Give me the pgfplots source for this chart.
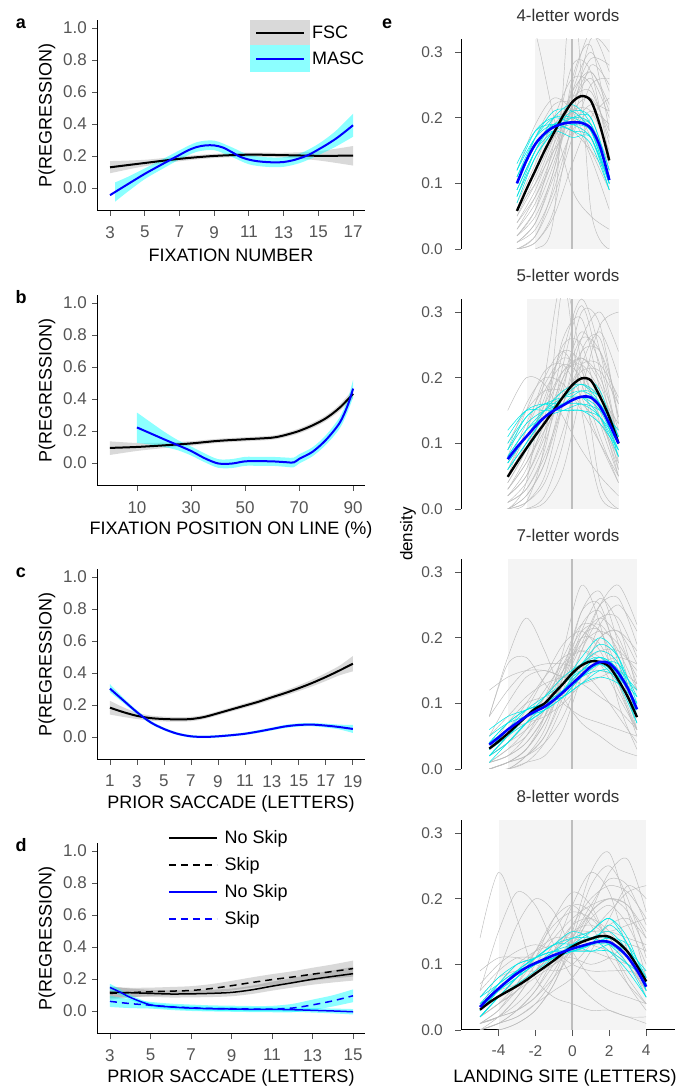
\documentclass[border=0pt]{standalone}
\usepackage{fontspec}
\setmainfont{Liberation Sans}
\usepackage{pgfplots}
\usepackage{pgfplotstable}
\pgfplotsset{compat=1.18}
\usepgfplotslibrary{fillbetween}

\definecolor{tickgray}{RGB}{85,85,85}
\definecolor{titlegray}{RGB}{51,51,51}
\definecolor{curvegray}{RGB}{188,188,188}
\definecolor{curvecyan}{RGB}{0,232,232}
\definecolor{cyanfill}{RGB}{0,255,255}
\definecolor{pureblue}{RGB}{0,0,255}
\definecolor{shadegray}{RGB}{244,244,244}
\definecolor{zeroline}{RGB}{190,190,190}
\newcommand{\fs}[1]{\fontsize{#1}{#1}\selectfont}

% ---------- panel a ----------
\pgfplotstableread{
x y lo hi
3 0.129 0.092 0.168
5 0.156 0.136 0.176
7 0.182 0.167 0.197
9 0.200 0.187 0.213
11 0.208 0.195 0.221
13 0.205 0.190 0.220
15 0.201 0.172 0.230
17 0.202 0.140 0.262
}\tAf
\pgfplotstableread{
x y
3 -0.045
4 0.022
5 0.088
6 0.148
7 0.206
7.5 0.235
8 0.256
8.5 0.266
9 0.266
9.5 0.253
10 0.225
10.5 0.195
11 0.177
11.5 0.167
12 0.162
12.5 0.160
13 0.162
13.5 0.172
14 0.188
14.5 0.210
15 0.240
15.5 0.272
16 0.307
16.5 0.348
17 0.392
}\tAm
\pgfplotstableread{
x lo hi
3.3 -0.085 0.035
4 -0.025 0.068
5 0.055 0.122
6 0.118 0.178
7 0.178 0.235
8 0.226 0.286
9 0.236 0.296
10 0.195 0.255
11 0.148 0.206
12 0.132 0.192
13 0.132 0.192
14 0.158 0.218
15 0.205 0.275
16 0.258 0.356
17 0.320 0.464
}\tAmb
% ---------- panel b ----------
\pgfplotstableread{
x y lo hi
0 0.094 0.050 0.135
10 0.100 0.075 0.125
20 0.110 0.093 0.127
30 0.122 0.108 0.136
40 0.138 0.125 0.151
50 0.148 0.135 0.161
60 0.158 0.145 0.171
65 0.175 0.161 0.189
70 0.200 0.185 0.215
75 0.235 0.219 0.251
80 0.280 0.263 0.297
85 0.345 0.325 0.365
90 0.432 0.405 0.460
}\tBf
\pgfplotstableread{
x y lo hi
10 0.222 0.125 0.315
15 0.185 0.115 0.255
20 0.148 0.100 0.196
25 0.112 0.080 0.144
30 0.075 0.047 0.103
35 0.030 0.005 0.060
40 -0.003 -0.030 0.024
45 -0.004 -0.032 0.024
50 0.010 -0.018 0.038
55 0.011 -0.018 0.038
60 0.010 -0.018 0.038
65 0.005 -0.024 0.034
68 0.003 -0.027 0.033
70 0.025 -0.004 0.054
75 0.070 0.042 0.098
80 0.145 0.115 0.175
85 0.250 0.215 0.285
88 0.360 0.320 0.400
90 0.465 0.410 0.520
}\tBm
% ---------- panel c ----------
\pgfplotstableread{
x y lo hi
1 0.183 0.140 0.226
2 0.155 0.125 0.185
3 0.132 0.112 0.152
4 0.118 0.102 0.134
5 0.112 0.097 0.127
6 0.110 0.096 0.124
7 0.112 0.098 0.126
8 0.125 0.112 0.138
9 0.148 0.135 0.161
10 0.172 0.159 0.185
11 0.196 0.182 0.210
12 0.220 0.206 0.234
13 0.248 0.233 0.263
14 0.275 0.259 0.291
15 0.305 0.287 0.323
16 0.338 0.317 0.359
17 0.375 0.350 0.400
18 0.415 0.385 0.445
19 0.458 0.410 0.506
}\tCf
\pgfplotstableread{
x y lo hi
1 0.302 0.280 0.330
2 0.228 0.212 0.244
3 0.155 0.143 0.167
4 0.092 0.082 0.102
5 0.050 0.041 0.059
6 0.020 0.012 0.028
7 0.004 -0.004 0.012
8 0.000 -0.008 0.008
9 0.004 -0.004 0.012
10 0.011 0.003 0.019
11 0.020 0.012 0.028
12 0.034 0.025 0.043
13 0.050 0.041 0.059
14 0.066 0.056 0.076
15 0.075 0.065 0.085
16 0.077 0.067 0.087
17 0.071 0.059 0.083
18 0.062 0.047 0.077
19 0.050 0.025 0.075
}\tCm
% ---------- panel d ----------
\pgfplotstableread{
x y lo hi
3 0.117 0.080 0.155
4 0.114 0.088 0.140
5 0.110 0.088 0.132
6 0.106 0.084 0.128
7 0.107 0.085 0.129
8 0.110 0.087 0.133
9 0.116 0.092 0.140
10 0.132 0.106 0.158
11 0.155 0.127 0.183
12 0.176 0.146 0.206
13 0.198 0.164 0.232
14 0.216 0.178 0.254
15 0.233 0.190 0.276
}\tDfn
\pgfplotstableread{
x y lo hi
3 0.110 0.070 0.150
4 0.115 0.085 0.145
5 0.120 0.094 0.146
6 0.124 0.098 0.150
7 0.128 0.101 0.155
8 0.140 0.112 0.168
9 0.158 0.128 0.188
10 0.178 0.146 0.210
11 0.196 0.162 0.230
12 0.212 0.176 0.248
13 0.230 0.190 0.270
14 0.247 0.203 0.291
15 0.265 0.215 0.315
}\tDfs
\pgfplotstableread{
x y lo hi
3 0.147 0.125 0.170
3.5 0.118 0.100 0.136
4 0.085 0.070 0.100
5 0.038 0.026 0.050
6 0.025 0.013 0.037
7 0.018 0.006 0.030
8 0.014 0.002 0.026
9 0.012 0.000 0.024
10 0.010 -0.002 0.022
11 0.010 -0.002 0.022
12 0.008 -0.005 0.021
13 0.004 -0.010 0.018
14 0.000 -0.015 0.015
15 -0.005 -0.022 0.012
}\tDmn
\pgfplotstableread{
x y lo hi
3 0.060 0.025 0.095
4 0.046 0.018 0.074
5 0.036 0.015 0.057
6 0.026 0.006 0.046
7 0.020 0.000 0.040
8 0.016 -0.003 0.035
9 0.014 -0.005 0.033
10 0.012 -0.007 0.031
11 0.012 -0.008 0.032
12 0.018 -0.008 0.044
13 0.038 0.005 0.071
14 0.063 0.028 0.098
15 0.095 0.055 0.135
}\tDms
% ---------- panel e: individual curves ----------
\pgfplotstableread{
x g1 g2 g3 g4 g5 g6 g7 g8 g9 g10 g11 g12 g13 g14 g15 g16 g17 g18 c1 c2 c3 c4 c5 c6 c7 c8 c9 c10 c11 c12
-3 0.02 0.05 0.08 0.01 0.10 0.03 0.00 0.06 0.12 0.02 0.00 0.04 0.00 0.40 0.01 0.07 0.00 0.09 0.10 0.12 0.08 0.11 0.09 0.13 0.07 0.11 0.10 0.09 0.12 0.08
-2 0.06 0.10 0.14 0.03 0.17 0.08 0.02 0.12 0.19 0.05 0.01 0.09 0.00 0.33 0.04 0.13 0.01 0.15 0.16 0.18 0.14 0.17 0.15 0.18 0.14 0.16 0.17 0.15 0.17 0.15
-1 0.13 0.17 0.19 0.09 0.22 0.15 0.10 0.18 0.23 0.12 0.06 0.16 0.05 0.20 0.11 0.20 0.05 0.20 0.19 0.20 0.18 0.20 0.19 0.19 0.18 0.18 0.21 0.18 0.19 0.20
0 0.22 0.24 0.21 0.19 0.22 0.23 0.26 0.23 0.21 0.25 0.20 0.21 0.40 0.09 0.18 0.26 0.13 0.20 0.20 0.19 0.21 0.20 0.19 0.18 0.20 0.17 0.21 0.19 0.18 0.22
1 0.26 0.27 0.18 0.28 0.17 0.29 0.31 0.24 0.15 0.33 0.32 0.21 0.06 0.05 0.21 0.25 0.20 0.14 0.19 0.17 0.20 0.18 0.18 0.17 0.20 0.17 0.18 0.19 0.16 0.19
2 0.20 0.22 0.12 0.25 0.10 0.28 0.18 0.17 0.09 0.27 0.30 0.15 0.00 0.03 0.19 0.16 0.23 0.06 0.11 0.10 0.12 0.10 0.11 0.09 0.12 0.10 0.10 0.11 0.09 0.11
}\tEa
\pgfplotstableread{
x h1 h2 h3 h4 h5 h6 h7 h8
-3 0.03 0.01 0.05 0.00 0.04 0.11 0.02 0.06
-2 0.07 0.04 0.11 0.02 0.08 0.16 0.06 0.10
-1 0.14 0.12 0.17 0.08 0.14 0.19 0.16 0.15
0 0.21 0.22 0.20 0.17 0.24 0.18 0.28 0.19
1 0.23 0.27 0.19 0.25 0.30 0.15 0.27 0.22
2 0.18 0.21 0.13 0.26 0.24 0.11 0.14 0.21
}\tEaX
\pgfplotstableread{
x g1 g2 g3 g4 g5 g6 g7 g8 g9 g10 g11 g12 g13 g14 g15 g16 g17 g18 g19 g20 c1 c2 c3 c4 c5 c6 c7 c8 c9 c10 c11 c12
-3.5 0.03 0.01 0.06 0.00 0.09 0.02 0.00 0.04 0.15 0.00 0.02 0.05 0.00 0.07 0.01 0.00 0.10 0.03 0.00 0.08 0.08 0.10 0.06 0.09 0.07 0.11 0.05 0.08 0.09 0.07 0.12 0.06
-2.5 0.07 0.04 0.12 0.02 0.16 0.05 0.01 0.09 0.20 0.01 0.06 0.10 0.00 0.13 0.03 0.04 0.15 0.08 0.00 0.15 0.12 0.14 0.10 0.13 0.11 0.15 0.09 0.12 0.14 0.11 0.15 0.10
-1.5 0.13 0.10 0.18 0.07 0.20 0.12 0.05 0.15 0.19 0.10 0.14 0.16 0.02 0.19 0.08 0.20 0.18 0.16 0.01 0.21 0.15 0.16 0.14 0.15 0.14 0.16 0.13 0.14 0.16 0.15 0.15 0.14
-0.5 0.20 0.19 0.22 0.18 0.19 0.24 0.16 0.21 0.14 0.34 0.26 0.21 0.10 0.23 0.16 0.35 0.18 0.25 0.06 0.22 0.17 0.16 0.17 0.16 0.16 0.15 0.17 0.15 0.17 0.18 0.15 0.16
0.5 0.23 0.26 0.20 0.30 0.15 0.32 0.26 0.23 0.09 0.22 0.29 0.22 0.24 0.21 0.22 0.15 0.16 0.25 0.18 0.17 0.18 0.16 0.19 0.17 0.17 0.15 0.20 0.16 0.17 0.19 0.15 0.18
1.5 0.19 0.24 0.14 0.28 0.10 0.24 0.30 0.20 0.05 0.04 0.18 0.18 0.26 0.14 0.22 0.02 0.13 0.15 0.28 0.10 0.16 0.14 0.17 0.15 0.16 0.14 0.18 0.15 0.14 0.16 0.13 0.17
2.5 0.11 0.14 0.07 0.13 0.05 0.10 0.24 0.12 0.02 0.00 0.06 0.11 0.14 0.06 0.17 0.00 0.08 0.05 0.30 0.04 0.10 0.09 0.11 0.09 0.11 0.10 0.10 0.12 0.08 0.08 0.09 0.11
}\tEb
\pgfplotstableread{
x h1 h2 h3 h4 h5 h6 h7 h8
-3.5 0.02 0.04 0.00 0.06 0.01 0.03 0.00 0.05
-2.5 0.05 0.09 0.02 0.11 0.03 0.07 0.01 0.12
-1.5 0.11 0.17 0.07 0.15 0.09 0.12 0.04 0.20
-0.5 0.20 0.24 0.16 0.18 0.22 0.17 0.12 0.24
0.5 0.27 0.22 0.24 0.19 0.31 0.21 0.22 0.19
1.5 0.22 0.13 0.24 0.17 0.21 0.21 0.27 0.11
2.5 0.10 0.05 0.16 0.13 0.07 0.16 0.20 0.04
}\tEbX
\pgfplotstableread{
x g1 g2 g3 g4 g5 g6 g7 g8 g9 g10 g11 g12 g13 g14 g15 g16 g17 g18 g19 g20 c1 c2 c3 c4 c5 c6 c7 c8 c9 c10 c11 c12
-4.5 0.08 0.08 0.01 0.00 0.02 0.00 0.12 0.01 0.03 0.00 0.05 0.00 0.02 0.01 0.08 0.00 0.03 0.00 0.04 0.02 0.03 0.04 0.02 0.05 0.03 0.01 0.04 0.02 0.06 0.03 0.02 0.04
-3.5 0.17 0.16 0.03 0.01 0.04 0.00 0.14 0.02 0.06 0.01 0.08 0.00 0.05 0.02 0.12 0.00 0.07 0.01 0.06 0.04 0.06 0.07 0.05 0.07 0.06 0.04 0.07 0.05 0.08 0.05 0.04 0.06
-2.5 0.23 0.17 0.06 0.03 0.07 0.02 0.15 0.04 0.10 0.03 0.11 0.01 0.09 0.05 0.15 0.01 0.10 0.02 0.07 0.06 0.08 0.09 0.08 0.08 0.09 0.07 0.09 0.07 0.09 0.08 0.07 0.08
-1.5 0.18 0.13 0.11 0.08 0.11 0.06 0.15 0.08 0.14 0.07 0.13 0.04 0.14 0.10 0.16 0.02 0.11 0.05 0.08 0.09 0.10 0.10 0.10 0.09 0.11 0.09 0.10 0.09 0.10 0.11 0.10 0.09
-0.5 0.11 0.10 0.17 0.18 0.15 0.14 0.14 0.13 0.17 0.14 0.14 0.10 0.19 0.16 0.16 0.06 0.12 0.12 0.10 0.14 0.12 0.12 0.13 0.11 0.13 0.12 0.11 0.12 0.11 0.14 0.13 0.11
0.5 0.07 0.08 0.22 0.28 0.19 0.24 0.13 0.19 0.18 0.22 0.15 0.18 0.21 0.21 0.15 0.14 0.15 0.20 0.13 0.20 0.15 0.14 0.16 0.14 0.15 0.16 0.13 0.15 0.13 0.16 0.17 0.14
1.5 0.05 0.07 0.21 0.22 0.21 0.27 0.11 0.25 0.16 0.24 0.15 0.25 0.18 0.22 0.12 0.20 0.20 0.21 0.16 0.23 0.17 0.16 0.18 0.15 0.16 0.19 0.15 0.17 0.14 0.17 0.20 0.16
2.5 0.03 0.06 0.15 0.10 0.19 0.19 0.09 0.26 0.11 0.17 0.14 0.28 0.12 0.18 0.08 0.21 0.21 0.13 0.17 0.20 0.15 0.14 0.16 0.14 0.13 0.17 0.15 0.15 0.13 0.14 0.17 0.16
3.5 0.02 0.05 0.08 0.03 0.14 0.08 0.06 0.19 0.06 0.08 0.12 0.22 0.06 0.12 0.04 0.18 0.16 0.05 0.16 0.13 0.09 0.10 0.08 0.11 0.07 0.10 0.12 0.09 0.10 0.07 0.08 0.11
}\tEc
\pgfplotstableread{
x h1 h2 h3 h4 h5 h6 h7 h8
-4.5 0.01 0.00 0.03 0.00 0.05 0.01 0.02 0.00
-3.5 0.03 0.01 0.05 0.00 0.10 0.02 0.04 0.01
-2.5 0.05 0.03 0.08 0.02 0.14 0.04 0.07 0.02
-1.5 0.09 0.07 0.12 0.05 0.15 0.08 0.11 0.04
-0.5 0.15 0.13 0.16 0.11 0.14 0.15 0.14 0.08
0.5 0.20 0.21 0.18 0.18 0.13 0.24 0.16 0.15
1.5 0.19 0.26 0.17 0.23 0.14 0.25 0.18 0.22
2.5 0.13 0.22 0.14 0.23 0.15 0.16 0.18 0.25
3.5 0.06 0.12 0.10 0.17 0.13 0.06 0.15 0.21
}\tEcX
\pgfplotstableread{
x g1 g2 g3 g4 g5 g6 g7 g8 g9 g10 g11 g12 g13 g14 g15 g16 g17 g18 g19 g20 c1 c2 c3 c4 c5 c6 c7 c8 c9 c10 c11 c12
-5 0.14 0.06 0.01 0.00 0.01 0.03 0.02 0.00 0.04 0.09 0.00 0.02 0.05 0.01 0.03 0.00 0.07 0.01 0.00 0.02 0.03 0.04 0.02 0.05 0.03 0.04 0.02 0.03 0.04 0.03 0.02 0.05
-4 0.24 0.15 0.02 0.01 0.02 0.05 0.04 0.01 0.07 0.11 0.00 0.05 0.08 0.02 0.06 0.01 0.10 0.03 0.02 0.04 0.06 0.07 0.05 0.08 0.06 0.06 0.05 0.07 0.06 0.06 0.05 0.07
-3 0.17 0.21 0.04 0.02 0.03 0.08 0.06 0.03 0.10 0.11 0.01 0.08 0.09 0.05 0.09 0.02 0.12 0.06 0.05 0.07 0.09 0.09 0.08 0.10 0.08 0.09 0.07 0.10 0.08 0.09 0.08 0.09
-2 0.08 0.19 0.07 0.04 0.05 0.12 0.10 0.06 0.12 0.10 0.03 0.11 0.09 0.09 0.12 0.04 0.13 0.09 0.09 0.11 0.10 0.11 0.10 0.11 0.10 0.11 0.09 0.11 0.10 0.11 0.11 0.10
-1 0.05 0.13 0.12 0.08 0.08 0.16 0.14 0.11 0.13 0.09 0.07 0.15 0.10 0.13 0.14 0.06 0.12 0.12 0.11 0.17 0.12 0.12 0.12 0.12 0.11 0.13 0.11 0.13 0.11 0.12 0.13 0.11
0 0.04 0.08 0.19 0.15 0.12 0.18 0.17 0.16 0.14 0.10 0.13 0.19 0.12 0.15 0.14 0.08 0.10 0.16 0.11 0.21 0.13 0.12 0.14 0.12 0.13 0.13 0.13 0.14 0.12 0.12 0.15 0.12
1 0.03 0.05 0.24 0.24 0.18 0.17 0.19 0.20 0.15 0.13 0.18 0.18 0.15 0.15 0.13 0.12 0.09 0.17 0.10 0.19 0.14 0.13 0.15 0.12 0.14 0.12 0.15 0.14 0.13 0.13 0.14 0.13
2 0.03 0.03 0.21 0.27 0.24 0.14 0.20 0.22 0.15 0.16 0.20 0.13 0.18 0.15 0.12 0.17 0.09 0.15 0.11 0.13 0.15 0.13 0.17 0.12 0.14 0.13 0.17 0.13 0.14 0.16 0.12 0.14
3 0.02 0.02 0.12 0.18 0.26 0.11 0.19 0.21 0.14 0.17 0.18 0.07 0.21 0.16 0.10 0.22 0.09 0.11 0.13 0.08 0.12 0.11 0.13 0.10 0.12 0.12 0.14 0.10 0.13 0.13 0.09 0.12
4 0.02 0.01 0.05 0.08 0.18 0.08 0.15 0.17 0.13 0.14 0.12 0.03 0.22 0.17 0.06 0.20 0.08 0.06 0.12 0.04 0.07 0.07 0.06 0.08 0.06 0.09 0.07 0.05 0.08 0.06 0.05 0.08
}\tEd
\pgfplotstableread{
x h1 h2 h3 h4 h5 h6 h7 h8
-5 0.01 0.03 0.00 0.02 0.00 0.04 0.01 0.06
-4 0.03 0.09 0.01 0.04 0.00 0.06 0.02 0.09
-3 0.07 0.16 0.03 0.06 0.01 0.07 0.03 0.11
-2 0.12 0.20 0.06 0.08 0.03 0.09 0.05 0.11
-1 0.17 0.18 0.10 0.10 0.07 0.12 0.09 0.11
0 0.19 0.12 0.14 0.13 0.14 0.15 0.14 0.12
1 0.16 0.08 0.18 0.17 0.22 0.16 0.19 0.12
2 0.11 0.06 0.20 0.19 0.25 0.14 0.23 0.11
3 0.07 0.05 0.19 0.16 0.20 0.10 0.22 0.10
4 0.04 0.04 0.14 0.10 0.11 0.06 0.16 0.09
}\tEdX
% ---------- panel e: mean curves ----------
\pgfplotstableread{
x fsc masc
-3 0.058 0.100
-2.5 0.090 0.134
-2 0.120 0.160
-1.5 0.150 0.176
-1 0.177 0.186
-0.5 0.203 0.191
0 0.224 0.193
0.5 0.233 0.192
1 0.226 0.184
1.5 0.188 0.156
2 0.135 0.105
}\mEa
\pgfplotstableread{
x fsc masc
-3.5 0.049 0.076
-3 0.071 0.094
-2.5 0.092 0.110
-2 0.112 0.126
-1.5 0.131 0.140
-1 0.151 0.150
-0.5 0.171 0.158
0 0.189 0.166
0.5 0.199 0.171
1 0.196 0.170
1.5 0.171 0.156
2 0.140 0.130
2.5 0.100 0.100
}\mEb
\pgfplotstableread{
x fsc masc
-4.5 0.031 0.037
-4 0.042 0.048
-3.5 0.054 0.060
-3 0.067 0.070
-2.5 0.080 0.080
-2 0.092 0.088
-1.5 0.100 0.095
-1 0.115 0.105
-0.5 0.130 0.117
0 0.146 0.130
0.5 0.158 0.143
1 0.164 0.156
1.5 0.163 0.163
2 0.156 0.161
2.5 0.135 0.146
3 0.110 0.123
3.5 0.079 0.091
}\mEc
\pgfplotstableread{
x fsc masc
-5 0.031 0.035
-4.5 0.042 0.050
-4 0.051 0.063
-3.5 0.059 0.075
-3 0.067 0.086
-2.5 0.076 0.095
-2 0.086 0.102
-1.5 0.096 0.108
-1 0.106 0.114
-0.5 0.117 0.119
0 0.127 0.124
0.5 0.134 0.128
1 0.139 0.132
1.5 0.143 0.135
2 0.142 0.134
2.5 0.133 0.125
3 0.119 0.111
3.5 0.098 0.091
4 0.074 0.066
}\mEd

\pgfplotsset{
  leftpanel/.style={
    scale only axis, width=268pt, height=191pt, anchor=south west,
    axis lines*=left, ymin=-0.144, ymax=1.05,
    ytick={0,0.2,0.4,0.6,0.8,1.0}, yticklabels={0.0,0.2,0.4,0.6,0.8,1.0},
    tick align=outside, major tick length=5pt,
    tick style={tickgray, line width=0.8pt},
    axis line style={black, line width=1pt},
    ticklabel style={font=\fs{17}, text=tickgray, inner sep=0pt},
    yticklabel style={anchor=east, xshift=-5pt},
    xticklabel style={anchor=north, yshift=-10pt},
    ylabel={P(REGRESSION)},
    every axis y label/.style={at={(axis description cs:-0.1866,0.5)}, rotate=90, anchor=center, font=\fs{18}},
    every axis x label/.style={at={(axis description cs:0.5,-0.2304)}, anchor=center, font=\fs{18}},
  },
  rightpanel/.style={
    scale only axis, width=214pt, height=210pt, anchor=south west,
    xmin=-6.03, xmax=5.56, ymin=0, ymax=0.32,
    axis y line*=left,
    ytick={0,0.1,0.2,0.3}, yticklabels={0.0,0.1,0.2,0.3},
    tick align=outside, major tick length=6pt,
    tick style={tickgray, line width=0.8pt},
    axis line style={black, line width=1pt},
    ticklabel style={font=\fs{15.5}, text=tickgray, inner sep=0pt},
    yticklabel style={anchor=east, xshift=-12pt},
    xticklabel style={anchor=north, yshift=-9pt},
    title style={at={(axis description cs:0.5,1.085)}, anchor=center, font=\fs{17}, text=titlegray},
  },
  bandgray/.style={fill=black, fill opacity=0.15, draw=none},
  bandcyan/.style={fill=cyanfill, fill opacity=0.45, draw=none},
  fscline/.style={black, line width=2pt, smooth},
  mascline/.style={pureblue, line width=2pt, smooth},
  gl/.style={curvegray, line width=0.45pt, smooth},
  cl/.style={curvecyan, line width=0.55pt, smooth},
  meanblack/.style={black, line width=2.4pt, smooth},
  meanblue/.style={pureblue, line width=2.6pt, smooth},
}

\begin{document}
\begin{tikzpicture}

% ================= a =================
\begin{axis}[leftpanel, at={(97pt,880pt)}, xmin=2.25, xmax=17.69,
  xtick={3,5,7,9,11,13,15,17}, xticklabels={3,5,7,9,11,13,15,17},
  xlabel={FIXATION NUMBER},
  legend cell align=left,
  legend style={at={(axis description cs:0.571,1)}, anchor=north west, draw=none, fill=none,
    inner sep=0pt, row sep=0pt, column sep=2pt, font=\fs{18}, nodes={inner sep=0pt}}]
\addplot[name path=aFU, draw=none, smooth, forget plot] table[x=x,y=hi]{\tAf};
\addplot[name path=aFL, draw=none, smooth, forget plot] table[x=x,y=lo]{\tAf};
\addplot[bandgray, forget plot] fill between[of=aFU and aFL];
\addplot[name path=aMU, draw=none, smooth, forget plot] table[x=x,y=hi]{\tAmb};
\addplot[name path=aML, draw=none, smooth, forget plot] table[x=x,y=lo]{\tAmb};
\addplot[bandcyan, forget plot] fill between[of=aMU and aML];
\addplot[fscline, forget plot] table[x=x,y=y]{\tAf};
\addplot[mascline, forget plot] table[x=x,y=y]{\tAm};
\addlegendimage{legend image code/.code={\fill[draw=none, black, fill opacity=0.15] (0pt,-12.5pt) rectangle (60pt,12.5pt); \draw[black, line width=2pt] (6pt,0pt) -- (54pt,0pt);}}
\addlegendentry{FSC}
\addlegendimage{legend image code/.code={\fill[draw=none, cyanfill, fill opacity=0.45] (0pt,-13.5pt) rectangle (60pt,13.5pt); \draw[pureblue, line width=2pt] (6pt,0pt) -- (54pt,0pt);}}
\addlegendentry{MASC}
\end{axis}

% ================= b =================
\begin{axis}[leftpanel, at={(97pt,605pt)}, xmin=-4.8, xmax=94.4,
  xtick={10,30,50,70,90}, xticklabels={10,30,50,70,90},
  xlabel={FIXATION POSITION ON LINE (\%)}]
\addplot[name path=bFU, draw=none, smooth] table[x=x,y=hi]{\tBf};
\addplot[name path=bFL, draw=none, smooth] table[x=x,y=lo]{\tBf};
\addplot[bandgray] fill between[of=bFU and bFL];
\addplot[name path=bMU, draw=none, smooth] table[x=x,y=hi]{\tBm};
\addplot[name path=bML, draw=none, smooth] table[x=x,y=lo]{\tBm};
\addplot[bandcyan] fill between[of=bMU and bML];
\addplot[fscline] table[x=x,y=y]{\tBf};
\addplot[mascline] table[x=x,y=y]{\tBm};
\end{axis}

% ================= c =================
\begin{axis}[leftpanel, at={(97pt,331pt)}, xmin=0.04, xmax=19.9,
  xtick={1,3,5,7,9,11,13,15,17,19}, xticklabels={1,3,5,7,9,11,13,15,17,19},
  xlabel={PRIOR SACCADE (LETTERS)}]
\addplot[name path=cFU, draw=none, smooth] table[x=x,y=hi]{\tCf};
\addplot[name path=cFL, draw=none, smooth] table[x=x,y=lo]{\tCf};
\addplot[bandgray] fill between[of=cFU and cFL];
\addplot[name path=cMU, draw=none, smooth] table[x=x,y=hi]{\tCm};
\addplot[name path=cML, draw=none, smooth] table[x=x,y=lo]{\tCm};
\addplot[bandcyan] fill between[of=cMU and cML];
\addplot[fscline] table[x=x,y=y]{\tCf};
\addplot[mascline] table[x=x,y=y]{\tCm};
\end{axis}

% ================= d =================
\begin{axis}[leftpanel, at={(97pt,57pt)}, xmin=2.36, xmax=15.59,
  xtick={3,5,7,9,11,13,15}, xticklabels={3,5,7,9,11,13,15},
  xlabel={PRIOR SACCADE (LETTERS)},
  legend cell align=left,
  legend style={at={(axis description cs:0.265,1.097)}, anchor=north west, draw=none, fill=none,
    inner sep=0pt, row sep=0pt, column sep=7pt, font=\fs{18}, nodes={inner sep=0pt}}]
\addplot[name path=dAU, draw=none, smooth, forget plot] table[x=x,y=hi]{\tDfn};
\addplot[name path=dAL, draw=none, smooth, forget plot] table[x=x,y=lo]{\tDfn};
\addplot[bandgray, forget plot] fill between[of=dAU and dAL];
\addplot[name path=dBU, draw=none, smooth, forget plot] table[x=x,y=hi]{\tDfs};
\addplot[name path=dBL, draw=none, smooth, forget plot] table[x=x,y=lo]{\tDfs};
\addplot[bandgray, forget plot] fill between[of=dBU and dBL];
\addplot[name path=dCU, draw=none, smooth, forget plot] table[x=x,y=hi]{\tDmn};
\addplot[name path=dCL, draw=none, smooth, forget plot] table[x=x,y=lo]{\tDmn};
\addplot[bandcyan, forget plot] fill between[of=dCU and dCL];
\addplot[name path=dDU, draw=none, smooth, forget plot] table[x=x,y=hi]{\tDms};
\addplot[name path=dDL, draw=none, smooth, forget plot] table[x=x,y=lo]{\tDms};
\addplot[bandcyan, forget plot] fill between[of=dDU and dDL];
\addplot[black, line width=1.5pt, smooth, forget plot] table[x=x,y=y]{\tDfn};
\addplot[black, line width=1.5pt, smooth, dash pattern=on 7pt off 5pt, forget plot] table[x=x,y=y]{\tDfs};
\addplot[pureblue, line width=1.5pt, smooth, forget plot] table[x=x,y=y]{\tDmn};
\addplot[pureblue, line width=1.5pt, smooth, dash pattern=on 7pt off 5pt, forget plot] table[x=x,y=y]{\tDms};
\addlegendimage{legend image code/.code={\path[draw=none] (0pt,-13.5pt) rectangle (48pt,13.5pt); \draw[black, line width=1.5pt] (0pt,0pt) -- (48pt,0pt);}}
\addlegendentry{No Skip}
\addlegendimage{legend image code/.code={\path[draw=none] (0pt,-13.5pt) rectangle (48pt,13.5pt); \draw[black, line width=1.5pt, dash pattern=on 7pt off 5pt] (0pt,0pt) -- (48pt,0pt);}}
\addlegendentry{Skip}
\addlegendimage{legend image code/.code={\path[draw=none] (0pt,-13.5pt) rectangle (48pt,13.5pt); \draw[pureblue, line width=1.5pt] (0pt,0pt) -- (48pt,0pt);}}
\addlegendentry{No Skip}
\addlegendimage{legend image code/.code={\path[draw=none] (0pt,-13.5pt) rectangle (48pt,13.5pt); \draw[pureblue, line width=1.5pt, dash pattern=on 7pt off 5pt] (0pt,0pt) -- (48pt,0pt);}}
\addlegendentry{Skip}
\end{axis}

% ================= e1: 4-letter =================
\begin{axis}[rightpanel, at={(461pt,842pt)}, axis x line=none, title={4-letter words}]
\addplot[fill=shadegray, draw=none] coordinates {(-2.02,0.32) (2.04,0.32)} \closedcycle;
\addplot[zeroline, line width=1.8pt] coordinates {(0,0) (0,0.32)};
\pgfplotsinvokeforeach{1,...,18}{\addplot[gl] table[x=x,y=g#1]{\tEa};}
\pgfplotsinvokeforeach{1,...,8}{\addplot[gl] table[x=x,y=h#1]{\tEaX};}
\pgfplotsinvokeforeach{1,...,12}{\addplot[cl] table[x=x,y=c#1]{\tEa};}
\addplot[meanblack] table[x=x,y=fsc]{\mEa};
\addplot[meanblue] table[x=x,y=masc]{\mEa};
\end{axis}

% ================= e2: 5-letter =================
\begin{axis}[rightpanel, at={(461pt,582pt)}, axis x line=none, title={5-letter words},
  ylabel={density},
  every axis y label/.style={at={(axis description cs:-0.2477,-0.119)}, rotate=90, anchor=center, font=\fs{17}}]
\addplot[fill=shadegray, draw=none] coordinates {(-2.47,0.32) (2.53,0.32)} \closedcycle;
\addplot[zeroline, line width=1.8pt] coordinates {(0,0) (0,0.32)};
\pgfplotsinvokeforeach{1,...,20}{\addplot[gl] table[x=x,y=g#1]{\tEb};}
\pgfplotsinvokeforeach{1,...,8}{\addplot[gl] table[x=x,y=h#1]{\tEbX};}
\pgfplotsinvokeforeach{1,...,12}{\addplot[cl] table[x=x,y=c#1]{\tEb};}
\addplot[meanblack] table[x=x,y=fsc]{\mEb};
\addplot[meanblue] table[x=x,y=masc]{\mEb};
\end{axis}

% ================= e3: 7-letter =================
\begin{axis}[rightpanel, at={(461pt,322pt)}, axis x line=none, title={7-letter words}]
\addplot[fill=shadegray, draw=none] coordinates {(-3.47,0.32) (3.52,0.32)} \closedcycle;
\addplot[zeroline, line width=1.8pt] coordinates {(0,0) (0,0.32)};
\pgfplotsinvokeforeach{1,...,20}{\addplot[gl] table[x=x,y=g#1]{\tEc};}
\pgfplotsinvokeforeach{1,...,8}{\addplot[gl] table[x=x,y=h#1]{\tEcX};}
\pgfplotsinvokeforeach{1,...,12}{\addplot[cl] table[x=x,y=c#1]{\tEc};}
\addplot[meanblack] table[x=x,y=fsc]{\mEc};
\addplot[meanblue] table[x=x,y=masc]{\mEc};
\end{axis}

% ================= e4: 8-letter =================
\begin{axis}[rightpanel, at={(461pt,61pt)}, axis x line*=bottom, title={8-letter words},
  xtick={-4,-2,0,2,4}, xticklabels={-4,-2,0,2,4},
  xlabel={LANDING SITE (LETTERS)},
  every axis x label/.style={at={(axis description cs:0.486,-0.2286)}, anchor=center, font=\fs{18}}]
\addplot[fill=shadegray, draw=none] coordinates {(-3.97,0.32) (4.0,0.32)} \closedcycle;
\addplot[zeroline, line width=1.8pt] coordinates {(0,0) (0,0.32)};
\pgfplotsinvokeforeach{1,...,20}{\addplot[gl] table[x=x,y=g#1]{\tEd};}
\pgfplotsinvokeforeach{1,...,8}{\addplot[gl] table[x=x,y=h#1]{\tEdX};}
\pgfplotsinvokeforeach{1,...,12}{\addplot[cl] table[x=x,y=c#1]{\tEd};}
\addplot[meanblack] table[x=x,y=fsc]{\mEd};
\addplot[meanblue] table[x=x,y=masc]{\mEd};
\end{axis}

% panel letters
\node[font=\bfseries\fs{18}] at (21pt,1067pt) {a};
\node[font=\bfseries\fs{18}] at (21pt,794pt) {b};
\node[font=\bfseries\fs{18}] at (21pt,518pt) {c};
\node[font=\bfseries\fs{18}] at (21pt,246pt) {d};
\node[font=\bfseries\fs{18}] at (387pt,1067pt) {e};
\pgfresetboundingbox
\path[use as bounding box] (0,0) rectangle (684pt,1091pt);
\end{tikzpicture}
\end{document}
